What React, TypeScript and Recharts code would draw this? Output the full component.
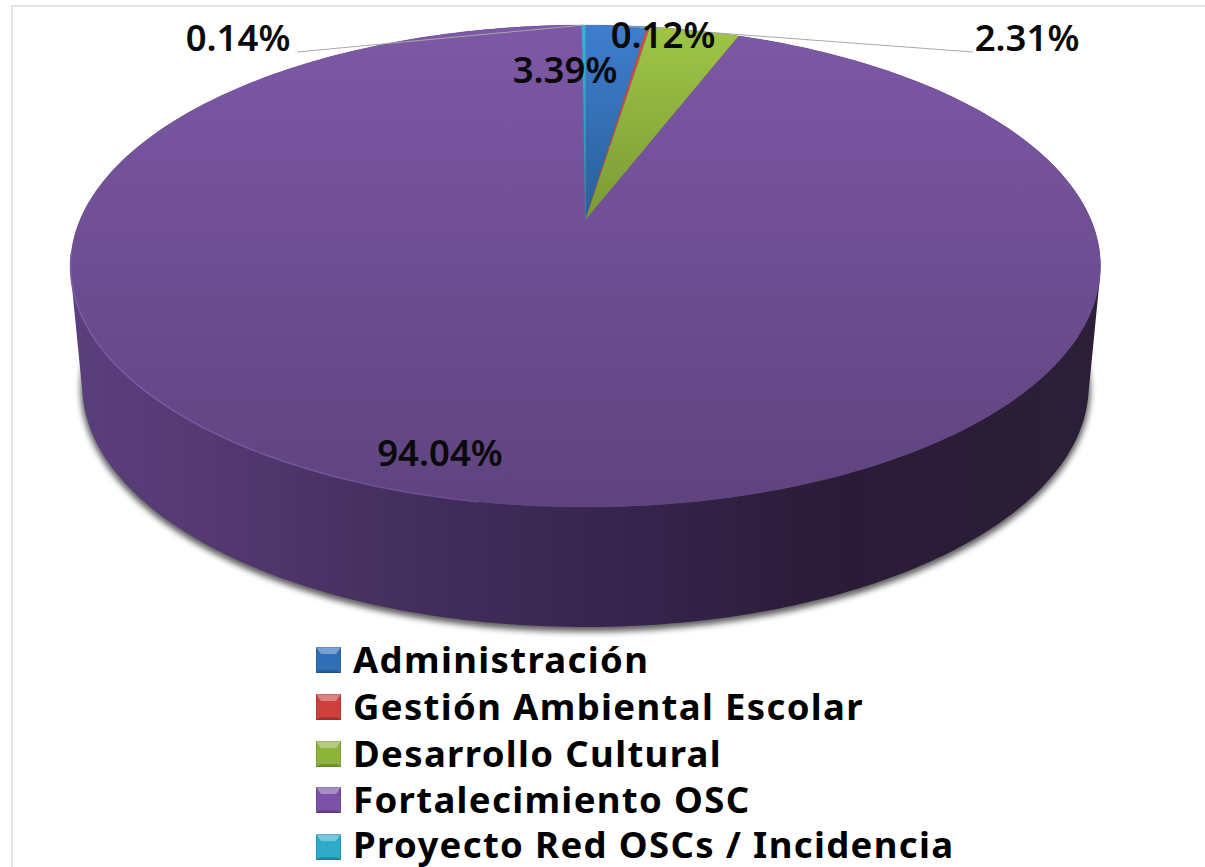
import React from "react";
import { PieChart, Pie, Legend } from "recharts";

const names = ["Administración", "Gestión Ambiental Escolar", "Desarrollo Cultural", "Fortalecimiento OSC", "Proyecto Red OSCs / Incidencia"];
const values = [2.31, 0.12, 3.39, 94.04, 0.14];
const colors = ["#2f6fb8", "#cf3f3b", "#8db43c", "#7a52a8", "#2fabc9"];
const topStops = [["#3f7ecf", "#2a5f98"], ["#d0504c", "#a84340"], ["#9fc646", "#7a9a35"], ["#7d58a6", "#5f437f"], ["#33b4d6", "#2a90ae"]];

const table = names.map((name, i) => ({ name, value: values[i], fill: colors[i] }));

const W = 1205, H = 867;
const CX = 585.5, CY = 220;
const A = 505.5, B = 232.2, K = 0.191;
const DEPTH = 120, SHRINK = 0.977;
const FONT = "'Noto Sans', 'Open Sans', sans-serif";

const rim = (deg: number, lower = false) => {
  const r = (deg * Math.PI) / 180;
  const u = Math.cos(r), v = Math.sin(r), w = 1 + K * v;
  const x = (A * u) / w, y = (-B * v) / w;
  return lower ? [CX + x * SHRINK, CY + y + DEPTH] : [CX + x, CY + y];
};
const arcPts = (a0: number, a1: number, lower = false) => {
  const n = Math.max(2, Math.ceil(Math.abs(a1 - a0)));
  const pts: number[][] = [];
  for (let i = 0; i <= n; i++) pts.push(rim(a0 + ((a1 - a0) * i) / n, lower));
  return pts;
};
const d = (pts: number[][]) => pts.map((p, i) => `${i ? "L" : "M"}${p[0].toFixed(2)} ${p[1].toFixed(2)}`).join(" ");

const TopSector = (p: any) => {
  const i = names.indexOf(p.name);
  const pts = arcPts(p.startAngle, p.endAngle);
  const path = `M${CX} ${CY} ${d(pts).replace("M", "L")} Z`;
  return (
    <g>
      <path d={path} fill={`url(#top${i})`} stroke={`url(#top${i})`} strokeWidth={0.3} />
      {i === 3 && <path d={d(arcPts(-100, -172))} fill="none" stroke="url(#rimLight)" strokeWidth={1.5} />}
    </g>
  );
};

const WallSector = (p: any) => {
  const i = names.indexOf(p.name);
  const top = arcPts(p.startAngle, p.endAngle);
  const low = arcPts(p.startAngle, p.endAngle, true);
  const quads: string[] = [];
  for (let k = 0; k < top.length - 1; k++) {
    const q = [top[k], top[k + 1], low[k + 1], low[k]];
    let area = 0;
    q.forEach((a, j) => {
      const b = q[(j + 1) % 4];
      area += a[0] * b[1] - b[0] * a[1];
    });
    quads.push(d(area < 0 ? [...q].reverse() : q) + " Z");
  }
  return (
    <g>
      {i === 3 && <path d={`${d(low)} Z`} transform="translate(0 3)" fill="#000" fillOpacity={0.6} stroke="#000" strokeOpacity={0.6} strokeWidth={3} filter="url(#wallShadow)" />}
      <path d={quads.join(" ")} fill="url(#wall)" />
    </g>
  );
};

const labelBoxes: Record<string, { x: number; y: number; line?: number[] }> = {
  [names[0]]: { x: 1027, y: 37, line: [973, 52] },
  [names[1]]: { x: 663, y: 34 },
  [names[2]]: { x: 565, y: 69 },
  [names[3]]: { x: 440, y: 452 },
  [names[4]]: { x: 238, y: 37, line: [297, 52] },
};

const SliceLabel = (p: any) => {
  const box = labelBoxes[p.name];
  if (!box) return null;
  const idx = names.indexOf(p.name);
  let lead = null;
  if (box.line) {
    const mid = rim(p.midAngle);
    lead = <polyline points={`${box.line[0]},${box.line[1]} ${mid[0]},${mid[1]}`} fill="none" stroke="#a8a8a8" strokeWidth={1} />;
  }
  return (
    <g>
      {lead}
      <text x={box.x} y={box.y} textAnchor="middle" dominantBaseline="central" fontFamily={FONT} fontWeight={600} fontSize={36.5} fill="#0a0a0a">
        {values[idx].toFixed(2)}%
      </text>
    </g>
  );
};

const Swatch = ({ i }: { i: number }) => (
  <svg width={25} height={26} style={{ flex: "none", marginRight: 13 }}>
    <rect x={0} y={0} width={25} height={26} fill={colors[i]} />
    <polygon points="0,0 25,0 20,7 5,7" fill="#fff" opacity={0.35} />
    <polygon points="0,26 25,26 21,23 4,23" fill="#000" opacity={0.18} />
    <rect x={0.5} y={0.5} width={24} height={25} fill="none" stroke="#000" strokeOpacity={0.12} />
  </svg>
);

const LegendRows = () => (
  <div>
    {names.map((n, i) => (
      <div key={n} style={{ display: "flex", alignItems: "center", height: 46.7, fontFamily: FONT, fontWeight: 700, fontSize: 36.5, letterSpacing: 1.35, color: "#000", whiteSpace: "nowrap" }}>
        <Swatch i={i} />
        <span style={{ position: "relative", top: i === names.length - 1 ? -3 : -1, marginLeft: -1 }}>{n}</span>
      </div>
    ))}
  </div>
);

export default function App() {
  return (
    <div style={{ position: "fixed", left: 0, top: 0, width: W, height: H, background: "#fff", overflow: "hidden" }}>
      <div style={{ position: "absolute", left: 11, top: 5, width: W, height: H, borderLeft: "2px solid #e6e6e6", borderTop: "2px solid #e2e2e2" }} />
      <div style={{ position: "absolute", left: 0, top: 0 }}>
        <PieChart width={W} height={H} margin={{ top: 0, right: 0, bottom: 0, left: 0 }}>
          <defs>
            {topStops.map((s, i) => (
              <linearGradient key={i} id={`top${i}`} gradientUnits="userSpaceOnUse" x1={0} y1={25} x2={0} y2={i === 3 ? 507 : 220}>
                <stop offset="0" stopColor={s[0]} />
                <stop offset="1" stopColor={s[1]} />
              </linearGradient>
            ))}
            <linearGradient id="wall" gradientUnits="userSpaceOnUse" x1={70} y1={0} x2={1100} y2={0}>
              <stop offset="0" stopColor="#5b3f7e" />
              <stop offset="0.15" stopColor="#533870" />
              <stop offset="0.3" stopColor="#45305f" />
              <stop offset="0.55" stopColor="#35244d" />
              <stop offset="0.75" stopColor="#2a1b36" />
              <stop offset="1" stopColor="#2c1f38" />
            </linearGradient>
            <linearGradient id="rimLight" gradientUnits="userSpaceOnUse" x1={70} y1={0} x2={600} y2={0}>
              <stop offset="0" stopColor="#7d5cab" />
              <stop offset="0.5" stopColor="#72539c" />
              <stop offset="1" stopColor="#614583" />
            </linearGradient>
            <filter id="wallShadow" x="-5%" y="-5%" width="110%" height="110%">
              <feGaussianBlur stdDeviation={3} />
            </filter>
          </defs>
          <Pie
            data={table}
            dataKey="value"
            nameKey="name"
            cx={CX}
            cy={CY}
            outerRadius={100}
            startAngle={90}
            endAngle={-270}
            paddingAngle={0}
            legendType="none"
            stroke="none"
            isAnimationActive={false}
            shape={WallSector}
            label={false}
            labelLine={false}
          />
          <Pie
            data={table}
            dataKey="value"
            nameKey="name"
            cx={CX}
            cy={CY}
            outerRadius={100}
            startAngle={90}
            endAngle={-270}
            paddingAngle={0}
            stroke="none"
            isAnimationActive={false}
            shape={TopSector}
            label={SliceLabel}
            labelLine={false}
          />
          <Legend content={<LegendRows />} wrapperStyle={{ position: "absolute", left: 316, top: 637, width: 800, height: 234, bottom: "auto" }} />
        </PieChart>
      </div>
    </div>
  );
}
